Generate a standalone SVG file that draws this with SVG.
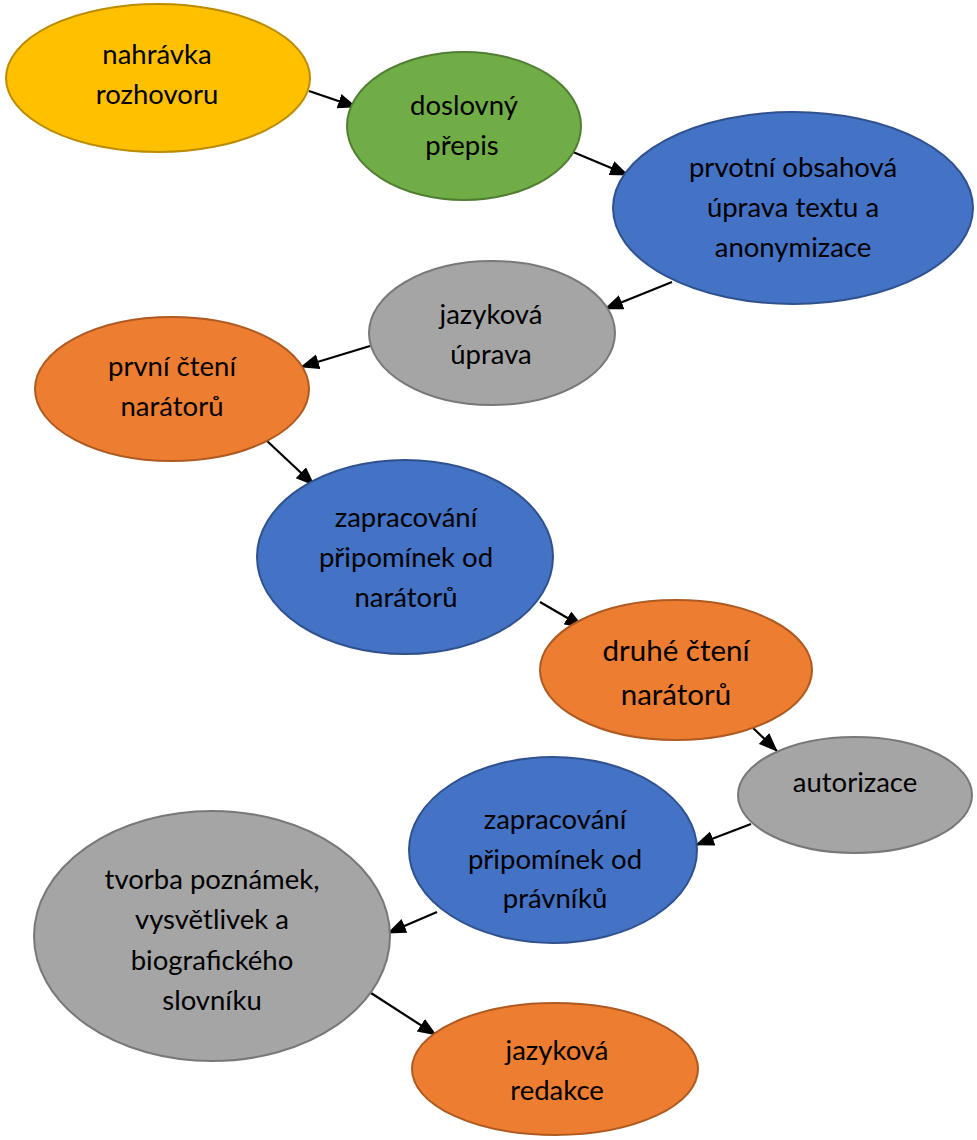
<svg xmlns="http://www.w3.org/2000/svg" width="977" height="1140" viewBox="0 0 977 1140">
<style>
  .n { stroke-width: 2; }
  .y { fill: #FFC000; stroke: #BC8C00; }
  .g { fill: #70AD47; stroke: #507E32; }
  .b { fill: #4472C4; stroke: #2F528F; }
  .s { fill: #A5A5A5; stroke: #787878; }
  .o { fill: #ED7D31; stroke: #AE5A21; }
  text { font-family: Lato, "Open Sans", "Liberation Sans", sans-serif; font-size: 27.5px; fill: #000; text-anchor: middle; }
  .big { font-size: 29.5px; }
  .c line { stroke: #000; stroke-width: 2.2; marker-end: url(#arr); }
</style>
<defs>
  <marker id="arr" markerUnits="userSpaceOnUse" markerWidth="20" markerHeight="16" refX="18" refY="7.5" orient="auto">
    <path d="M0,0 L19,7.5 L0,15 z" fill="#000"/>
  </marker>
</defs>
<g id="connectors" class="c">
  <line x1="309" y1="91" x2="356" y2="107"/>
  <line x1="573" y1="152" x2="628" y2="175"/>
  <line x1="672" y1="282" x2="605" y2="309"/>
  <line x1="370" y1="346" x2="301" y2="367"/>
  <line x1="266" y1="440" x2="314" y2="485"/>
  <line x1="540" y1="602" x2="583" y2="627"/>
  <line x1="752" y1="727" x2="777" y2="751"/>
  <line x1="751" y1="824" x2="696" y2="845"/>
  <line x1="437" y1="912" x2="388" y2="933"/>
  <line x1="371" y1="993" x2="436" y2="1035"/>
</g>
<g id="n1"><ellipse class="n y" cx="158" cy="78" rx="152" ry="74"/><text x="157" y="64">nahrávka</text><text x="157" y="104">rozhovoru</text></g>
<g id="n2"><ellipse class="n g" cx="464" cy="126" rx="117" ry="74"/><text x="464" y="115">doslovný</text><text x="462" y="155">přepis</text></g>
<g id="n3"><ellipse class="n b" cx="793" cy="208" rx="180" ry="96"/><text x="793" y="177">prvotní obsahová</text><text x="793" y="217">úprava textu a</text><text x="793" y="257">anonymizace</text></g>
<g id="n4"><ellipse class="n s" cx="492" cy="333" rx="123" ry="72"/><text x="491" y="324">jazyková</text><text x="491" y="364">úprava</text></g>
<g id="n5"><ellipse class="n o" cx="172" cy="389" rx="137" ry="72"/><text x="172" y="376">první čtení</text><text x="172" y="416">narátorů</text></g>
<g id="n6"><ellipse class="n b" cx="405" cy="557" rx="148" ry="97"/><text x="406" y="527">zapracování</text><text x="406" y="567">připomínek od</text><text x="406" y="607">narátorů</text></g>
<g id="n7"><ellipse class="n o" cx="676" cy="670" rx="136" ry="70"/><text class="big" x="676" y="661">druhé čtení</text><text class="big" x="676" y="705">narátorů</text></g>
<g id="n8"><ellipse class="n s" cx="855" cy="795" rx="117" ry="58"/><text x="855" y="792">autorizace</text></g>
<g id="n9"><ellipse class="n b" cx="553" cy="850" rx="144" ry="93"/><text x="555" y="829">zapracování</text><text x="555" y="869">připomínek od</text><text x="555" y="908">právníků</text></g>
<g id="n10"><ellipse class="n s" cx="212" cy="936" rx="178" ry="125"/><text x="212" y="889">tvorba poznámek,</text><text x="212" y="929">vysvětlivek a</text><text x="212" y="970">biografického</text><text x="212" y="1010">slovníku</text></g>
<g id="n11"><ellipse class="n o" cx="555" cy="1069" rx="143" ry="66"/><text x="557" y="1060">jazyková</text><text x="557" y="1100">redakce</text></g>
</svg>
